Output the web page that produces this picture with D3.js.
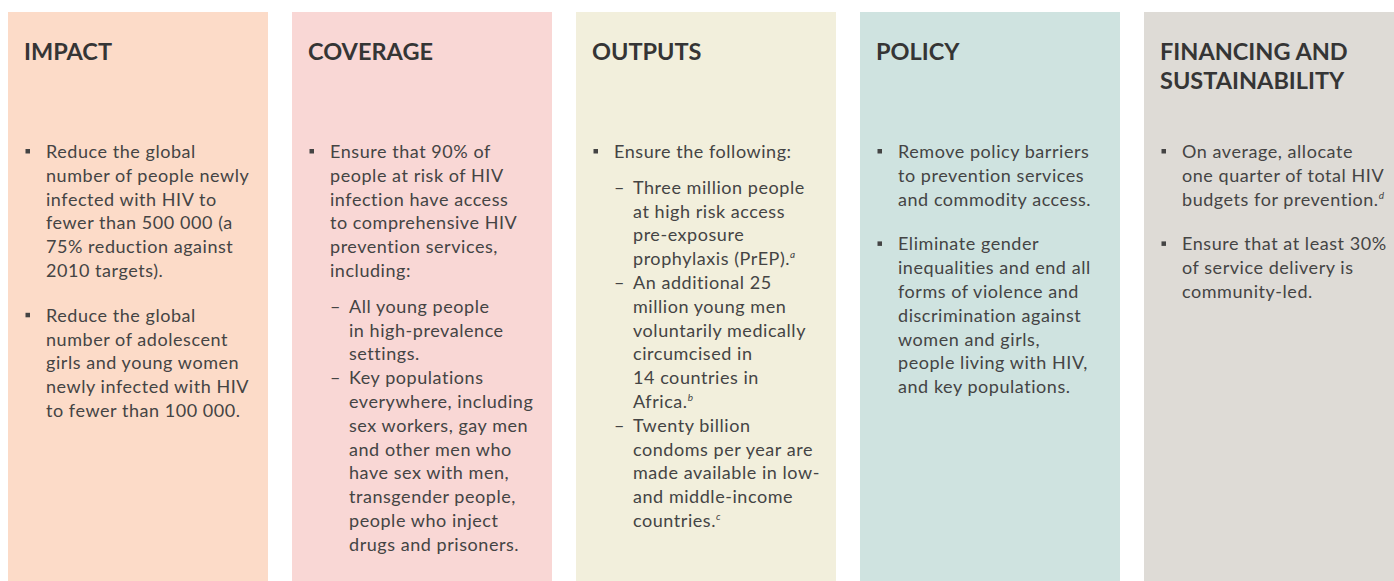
<!DOCTYPE html>
<html>
<head>
<meta charset="utf-8">
<script src="https://cdn.jsdelivr.net/npm/d3@7"></script>
<style>
  body { margin: 0; background: #fff; }
  svg { display: block; font-family: Lato, "Noto Sans", sans-serif; }
</style>
</head>
<body>
<div id="chart"></div>
<script>
// Panel headings, one per column
var headers = ["IMPACT", "COVERAGE", "OUTPUTS", "POLICY", "FINANCING AND\nSUSTAINABILITY"];
var panelColors = ["#fcdbc8", "#f9d7d5", "#f2efdc", "#cfe3e0", "#dedbd6"];

// Bullet text of each column, line breaks as in the original; "^x" marks a footnote
var impactItems = [
    { lines: ["Reduce the global", "number of people newly", "infected with HIV to", "fewer than 500 000 (a", "75% reduction against", "2010 targets)."] },
    { lines: ["Reduce the global", "number of adolescent", "girls and young women", "newly infected with HIV", "to fewer than 100 000."] }
];
var coverageItems = [
    { lines: ["Ensure that 90% of", "people at risk of HIV", "infection have access", "to comprehensive HIV", "prevention services,", "including:"],
      subs: [
        ["All young people", "in high-prevalence", "settings."],
        ["Key populations", "everywhere, including", "sex workers, gay men", "and other men who", "have sex with men,", "transgender people,", "people who inject", "drugs and prisoners."]
      ] }
];
var outputItems = [
    { lines: ["Ensure the following:"],
      subs: [
        ["Three million people", "at high risk access", "pre-exposure", "prophylaxis (PrEP).^a"],
        ["An additional 25", "million young men", "voluntarily medically", "circumcised in", "14 countries in", "Africa.^b"],
        ["Twenty billion", "condoms per year are", "made available in low-", "and middle-income", "countries.^c"]
      ] }
];
var policyItems = [
    { lines: ["Remove policy barriers", "to prevention services", "and commodity access."] },
    { lines: ["Eliminate gender", "inequalities and end all", "forms of violence and", "discrimination against", "women and girls,", "people living with HIV,", "and key populations."] }
];
var financingItems = [
    { lines: ["On average, allocate", "one quarter of total HIV", "budgets for prevention.^d"] },
    { lines: ["Ensure that at least 30%", "of service delivery is", "community-led."] }
];
var panelItems = [impactItems, coverageItems, outputItems, policyItems, financingItems];

var width = 1394, height = 581;
var lineH = 23.8, bulletGap = 21, subGap = 12;
var textTop = 158;
var textColor = "#444";

var svg = d3.select("#chart").append("svg")
    .attr("width", width)
    .attr("height", height);

var x = d3.scaleBand()
    .domain(headers)
    .range([8, 1404])
    .paddingInner(24 / 284)
    .paddingOuter(0);

function addLine(sel, str, px, py) {
    var t = sel.append("text")
        .attr("x", px)
        .attr("y", py)
        .attr("fill", textColor)
        .style("font-size", "18px");
    var parts = str.split("^");
    t.append("tspan")
        .style("letter-spacing", "0.55px")
        .text(parts[0]);
    if (parts.length > 1) {
        t.append("tspan")
            .attr("dy", -7)
            .style("font-size", "10px")
            .style("font-style", "italic")
            .text(parts[1]);
    }
}

var panels = svg.selectAll(".panel")
    .data(headers)
    .enter().append("g")
    .attr("class", "panel")
    .attr("transform", function (d) { return "translate(" + x(d) + ",0)"; });

panels.append("rect")
    .attr("y", 12)
    .attr("width", x.bandwidth())
    .attr("height", height - 12)
    .attr("fill", function (d, i) { return panelColors[i]; });

panels.each(function (h, i) {
    var g = d3.select(this);

    // heading
    h.split("\n").forEach(function (line, k) {
        g.append("text")
            .attr("x", 16)
            .attr("y", 60 + k * 29)
            .attr("fill", "#353535")
            .style("font-size", "23.5px")
            .style("font-weight", 700)
            .text(line);
    });

    var y = textTop;
    panelItems[i].forEach(function (item) {
        g.append("rect")
            .attr("x", 17.5)
            .attr("y", y - 9)
            .attr("width", 4.5)
            .attr("height", 4.5)
            .attr("fill", textColor);
        item.lines.forEach(function (l) {
            addLine(g, l, 38, y);
            y += lineH;
        });
        if (item.subs) {
            y += subGap;
            item.subs.forEach(function (sub) {
                g.append("text")
                    .attr("x", 38)
                    .attr("y", y)
                    .attr("fill", textColor)
                    .style("font-size", "18px")
                    .text("\u2013");
                sub.forEach(function (l) {
                    addLine(g, l, 57, y);
                    y += lineH;
                });
            });
        }
        y += bulletGap;
    });
});
</script>
</body>
</html>
